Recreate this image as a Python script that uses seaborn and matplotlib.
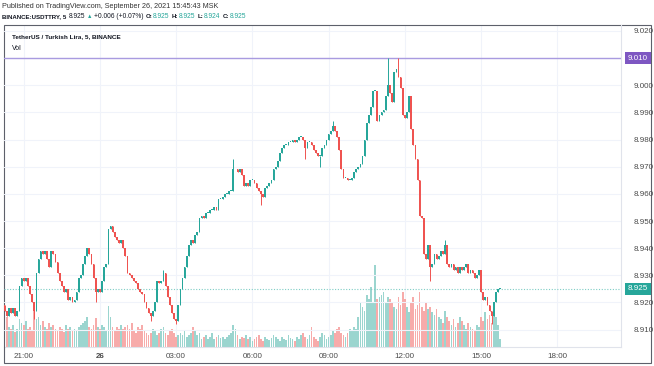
import numpy as np
import pandas as pd
import matplotlib
matplotlib.use("Agg")
import matplotlib.pyplot as plt
import matplotlib.transforms as mtransforms
import seaborn as sns

# USDT/TRY 5 min candles, 25 Sep 20:15 -> 26 Sep 15:45, closes in 1/1000 TRY
closes = [
    8917, 8915, 8918, 8916, 8918, 8915, 8917, 8926, 8929,
    8928, 8929, 8926, 8923, 8920, 8917, 8931, 8936, 8939, 8938, 8939, 8936,
    8933, 8939, 8938, 8935, 8931, 8928, 8926, 8924, 8925, 8921, 8922, 8920,
    8921, 8924, 8929, 8930, 8934, 8937, 8940, 8938, 8934, 8929, 8924, 8925,
    8924, 8928, 8933, 8934, 8947, 8948, 8946, 8944, 8943, 8942, 8943, 8940,
    8937, 8931, 8930, 8929, 8928, 8927, 8925, 8924, 8923, 8920, 8918, 8916,
    8915, 8917, 8920, 8928, 8927, 8928, 8931, 8926, 8922, 8919, 8916, 8914,
    8913, 8919, 8925, 8929, 8933, 8937, 8941, 8943, 8942, 8945, 8946, 8951,
    8952, 8951, 8953, 8953, 8954, 8954, 8955, 8954, 8958, 8958, 8959, 8960,
    8960, 8961, 8961, 8969, 8969, 8968, 8969, 8967, 8963, 8964, 8963, 8965,
    8965, 8964, 8962, 8961, 8960, 8959, 8962, 8963, 8964, 8965, 8969, 8970,
    8972, 8975, 8977, 8978, 8978, 8979, 8979, 8980, 8979, 8980, 8981, 8981,
    8980, 8977, 8979, 8979, 8978, 8976, 8975, 8974, 8974, 8977, 8978, 8980,
    8982, 8983, 8985, 8983, 8981, 8976, 8969, 8966, 8966, 8965, 8965, 8966,
    8968, 8969, 8970, 8971, 8974, 8980, 8986, 8989, 8992, 8998, 8998, 8987,
    8989, 8990, 8991, 8996, 9000, 8997, 8994, 9005, 9006, 9003, 8999, 8989,
    8988, 8990, 8996, 8984, 8978, 8973, 8965, 8952, 8951, 8938, 8936, 8941,
    8933, 8934, 8938, 8936, 8937, 8939, 8938, 8941, 8934, 8933, 8934, 8932,
    8933, 8931, 8933, 8932, 8933, 8934, 8931, 8932, 8931, 8929, 8930, 8932,
    8924, 8921, 8922, 8919, 8917, 8915, 8920, 8924, 8925, 8925,
]
first_open = 8919

# longer wicks that stand out
wick_high = {75: 8932, 108: 8973, 155: 8987, 181: 9010, 186: 9010, 208: 8943}
wick_low = {14: 8914, 43: 8920, 69: 8913, 81: 8912, 121: 8956, 142: 8973,
            149: 8970, 201: 8928, 230: 8912}

volume = [
    25, 30, 20, 18, 22, 15, 18, 28, 24,
    22, 26, 18, 20, 16, 40, 28, 30, 22, 26, 20, 18,
    24, 20, 22, 18, 16, 20, 18, 15, 22, 18, 20, 16,
    18, 16, 20, 22, 24, 26, 30, 20, 18, 22, 29, 20,
    18, 22, 20, 16, 41, 30, 20, 16, 20, 18, 22, 18,
    20, 22, 18, 24, 16, 14, 20, 18, 22, 16, 14, 12,
    14, 18, 16, 12, 14, 18, 20, 14, 12, 16, 18, 14,
    10, 12, 14, 12, 16, 10, 12, 14, 20, 16, 12, 14,
    8, 10, 12, 8, 10, 14, 8, 10, 12, 9, 10, 8,
    10, 12, 14, 22, 18, 12, 8, 10, 9, 12, 8, 10,
    6, 8, 10, 12, 8, 6, 10, 8, 7, 9, 12, 10,
    8, 6, 10, 8, 7, 12, 9, 8, 6, 10, 8, 12,
    14, 10, 8, 12, 20, 10, 8, 6, 10, 14, 12, 8,
    10, 12, 16, 14, 18, 20, 14, 12, 10, 14, 18, 16,
    20, 18, 30, 45, 40, 36, 52, 48, 60, 45, 82, 48,
    50, 52, 55, 45, 50, 48, 44, 40, 38, 50, 42, 55,
    48, 40, 35, 45, 50, 38, 42, 55, 40, 36, 44, 38,
    40, 35, 32, 38, 30, 28, 24, 36, 30, 26, 22, 28,
    20, 24, 30, 26, 22, 18, 24, 20, 18, 16, 22, 20,
    30, 26, 35, 28, 32, 24, 35, 30, 22, 8,
]

time_labels = ["21:00", "26", "03:00", "06:00", "09:00", "12:00", "15:00", "18:00"]
time_idx = [9, 45, 81, 117, 153, 189, 225, 261]
price_ticks = [8.910, 8.920, 8.930, 8.940, 8.950, 8.960, 8.970, 8.980, 8.990, 9.000, 9.010, 9.020]
level_price = 9.010
last_price = 8.925

UP = "#26a69a"
DOWN = "#ef5350"
INK = "#131722"

df = pd.DataFrame({"close": np.array(closes) / 1000.0})
df["open"] = df["close"].shift(1).fillna(first_open / 1000.0)
df["high"] = df[["open", "close"]].max(axis=1)
df["low"] = df[["open", "close"]].min(axis=1)
for k, v in wick_high.items():
    df.loc[k, "high"] = v / 1000.0
for k, v in wick_low.items():
    df.loc[k, "low"] = v / 1000.0
df["idx"] = np.arange(len(df))
df["dir"] = np.where(df["close"] >= df["open"], "up", "down")
df["vol"] = volume

sns.set_style("white")
plt.rcParams["font.family"] = ["Liberation Sans", "DejaVu Sans"]

W, H = 654, 366
fig = plt.figure(figsize=(W / 100, H / 100), dpi=100)
fig.patch.set_facecolor("white")

left, right, top, bottom = 4, 621, 25, 347
ax = fig.add_axes([left / W, 1 - bottom / H, (right - left) / W, (bottom - top) / H])

# volume underneath
sns.barplot(data=df, x="idx", y="vol", hue="dir", palette={"up": "#9bd5cf", "down": "#f7abaa"},
            native_scale=True, dodge=False, legend=False, errorbar=None, width=0.8,
            saturation=1, linewidth=0, ax=ax)
ax.set_ylim(0, 322)
ax.set_yticks([])
ax.set_xlabel("")
ax.set_ylabel("")

axp = ax.twinx()
axp.set_zorder(ax.get_zorder() + 1)
axp.patch.set_visible(False)

colors = np.where(df["dir"] == "up", UP, DOWN)
body_lo = df[["open", "close"]].min(axis=1)
body_h = (df["close"] - df["open"]).abs().clip(lower=0.0003)
axp.vlines(df["idx"], df["low"], df["high"], colors=colors, lw=0.7, zorder=3)
axp.bar(df["idx"], body_h, bottom=body_lo, width=0.8, color=colors, linewidth=0, zorder=4)

axp.axhline(level_price, color="#a99be0", lw=1.0, zorder=2)
axp.axhline(last_price, color="#7fcdc5", lw=0.8, ls=(0, (1, 1.5)), zorder=2)

axp.set_ylim(8.9036, 9.0222)
axp.set_yticks(price_ticks)
# the boxed label covers this tick
axp.set_yticklabels(["" if abs(p - level_price) < 1e-9 else f"{p:.3f}" for p in price_ticks])
axp.tick_params(axis="y", length=0, pad=9, labelsize=5.8, labelcolor="#4a4a4a")
axp.grid(axis="y", color="#f0f3fa", lw=0.8, zorder=0)

ax.set_xlim(-0.3, 291.1)
ax.set_xticks(time_idx)
ax.set_xticklabels(time_labels)
ax.tick_params(axis="x", length=0, pad=4, labelsize=5.8, labelcolor="#4a4a4a")
ax.get_xticklabels()[1].set_fontweight("bold")
ax.grid(axis="x", color="#f0f3fa", lw=0.8)
ax.set_axisbelow(True)

for a in (ax, axp):
    for s in a.spines.values():
        s.set_visible(False)
ax.spines["bottom"].set_visible(True)
ax.spines["bottom"].set_color("#e0e3eb")
axp.spines["right"].set_visible(True)
axp.spines["right"].set_color("#e0e3eb")

# boxed price labels on the right scale
tr = mtransforms.blended_transform_factory(axp.transAxes, axp.transData)
lab_x = (638 - left) / (right - left)
for price, face in [(level_price, "#7e57c2"), (last_price, UP)]:
    axp.text(lab_x, price, f"{price:.3f}", transform=tr, ha="center", va="center",
             fontsize=5.8, color="white", zorder=6, clip_on=False,
             bbox=dict(boxstyle="square,pad=0.35", facecolor=face, edgecolor="none"))

# outer frame
fig.add_artist(plt.Rectangle((4 / W, 3 / H), 647 / W, 338 / H, transform=fig.transFigure,
                             fill=False, edgecolor="#5d606b", lw=0.8))

# header
fig.text(2 / W, 1 - 6 / H, "Published on TradingView.com, September 26, 2021 15:45:43 MSK",
         fontsize=5.2, color="#333333", va="center")

renderer = fig.canvas.get_renderer()
parts = [
    ("BINANCE:USDTTRY, 5", INK, "bold", 2.5, 4.4),
    ("8.925", INK, "normal", 1.5, 4.8),
    ("\u25b2", UP, "normal", 1.5, 4.0),
    ("+0.006 (+0.07%)", INK, "normal", 2.5, 4.8),
    ("O:", INK, "bold", 0.5, 4.4),
    ("8.925", UP, "normal", 2.5, 4.8),
    ("H:", INK, "bold", 0.5, 4.4),
    ("8.925", UP, "normal", 2.5, 4.8),
    ("L:", INK, "bold", 0.5, 4.4),
    ("8.924", UP, "normal", 2.5, 4.8),
    ("C:", INK, "bold", 0.5, 4.4),
    ("8.925", UP, "normal", 0, 4.8),
]
xpos = 2
for s, c, w, gap, fs in parts:
    t = fig.text(xpos / W, 1 - 17 / H, s, fontsize=fs, color=c, fontweight=w, va="center")
    xpos = t.get_window_extent(renderer).x1 + gap

fig.text(12 / W, 1 - 37 / H, "TetherUS / Turkish Lira, 5, BINANCE", fontsize=4.6,
         color=INK, fontweight="bold", va="center")
fig.text(12 / W, 1 - 49 / H, "Vol", fontsize=5.0, color=INK, va="center")

fig.savefig("out.png", dpi=100)
